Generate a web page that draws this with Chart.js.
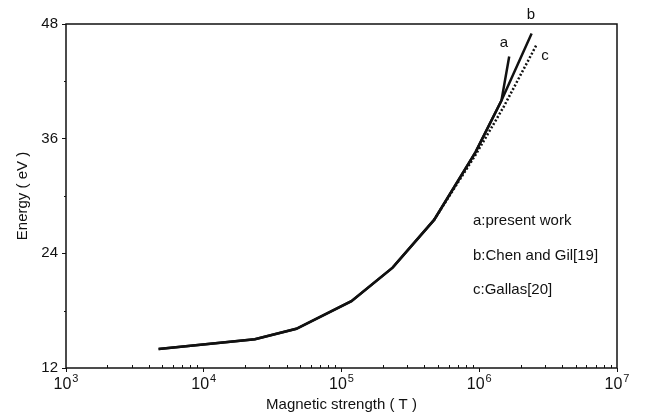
<!DOCTYPE html>
<html>
<head>
<meta charset="utf-8">
<script src="https://cdn.jsdelivr.net/npm/chart.js@4.4.0/dist/chart.umd.min.js"></script>
<style>
    html, body { margin: 0; padding: 0; background: #fff; }
    #energyChart { display: block; }
</style>
</head>
<body>
<canvas id="energyChart" width="651" height="416"></canvas>
<script>
// Data (field in tesla, energy in eV)
const fieldA = [4.7e3, 2.35e4, 4.7e4, 1.18e5, 2.35e5, 4.7e5, 9.4e5, 1.45e6, 1.65e6];
const energyA = [14.0, 15.0, 16.1, 19.0, 22.5, 27.5, 34.6, 40.0, 44.6];

const fieldB = [4.7e3, 2.35e4, 4.7e4, 1.18e5, 2.35e5, 4.7e5, 9.4e5, 1.45e6, 2.4e6];
const energyB = [14.0, 15.0, 16.1, 19.0, 22.5, 27.5, 34.6, 40.0, 47.0];

const fieldC = [4.7e5, 9.4e5, 1.5e6, 2.6e6];
const energyC = [27.5, 34.3, 39.3, 45.8];

const xTicks = [1e3, 1e4, 1e5, 1e6, 1e7];
const xTickExponents = ['3', '4', '5', '6', '7'];
const yTicks = [12, 24, 36, 48];
const yMinorTicks = [18, 30, 42];

const curveLabels = [
    { text: 'a', x: 504, y: 43 },
    { text: 'b', x: 531, y: 15 },
    { text: 'c', x: 545, y: 56 }
];
const legendLines = ['a:present work', 'b:Chen and Gil[19]', 'c:Gallas[20]'];

const FONT = '"Liberation Sans", Arial, Helvetica, sans-serif';
const INK = '#111';

function toPoints(xs, ys) {
    return xs.map((x, i) => ({ x: x, y: ys[i] }));
}

// frame, minor ticks, power-of-ten labels and the text annotations
const extrasPlugin = {
    id: 'extras',
    afterDraw(chart) {
        const ctx = chart.ctx;
        const area = chart.chartArea;
        const xs = chart.scales.x;
        const ys = chart.scales.y;
        ctx.save();

        ctx.strokeStyle = INK;
        ctx.lineWidth = 1.5;
        ctx.strokeRect(area.left, area.top, area.right - area.left, area.bottom - area.top);

        // x minor ticks, pointing inward
        ctx.lineWidth = 1;
        ctx.beginPath();
        for (let p = 3; p < 7; p++) {
            for (let m = 2; m <= 9; m++) {
                const px = Math.round(xs.getPixelForValue(m * Math.pow(10, p))) + 0.5;
                ctx.moveTo(px, area.bottom);
                ctx.lineTo(px, area.bottom - 3);
            }
        }
        yMinorTicks.forEach(v => {
            const py = Math.round(ys.getPixelForValue(v)) + 0.5;
            ctx.moveTo(area.left, py);
            ctx.lineTo(area.left - 2, py);
        });
        ctx.stroke();

        ctx.fillStyle = INK;

        // 10^n labels with a real raised exponent
        ctx.textAlign = 'left';
        ctx.textBaseline = 'alphabetic';
        xTicks.forEach((v, i) => {
            const px = xs.getPixelForValue(v);
            ctx.font = '16px ' + FONT;
            const baseW = ctx.measureText('10').width;
            ctx.font = '11px ' + FONT;
            const expW = ctx.measureText(xTickExponents[i]).width;
            const x0 = px - (baseW + 1 + expW) / 2;
            ctx.font = '16px ' + FONT;
            ctx.fillText('10', x0, area.bottom + 21);
            ctx.font = '11px ' + FONT;
            ctx.fillText(xTickExponents[i], x0 + baseW + 1, area.bottom + 14);
        });

        ctx.font = '15px ' + FONT;
        ctx.textAlign = 'center';
        ctx.textBaseline = 'middle';
        curveLabels.forEach(l => ctx.fillText(l.text, l.x, l.y));

        ctx.textAlign = 'left';
        legendLines.forEach((t, i) => ctx.fillText(t, 473, 221 + i * 34.5));
        ctx.restore();
    }
};

const ctx = document.getElementById('energyChart').getContext('2d');

new Chart(ctx, {
    type: 'line',
    data: {
        datasets: [
            {
                label: 'a',
                data: toPoints(fieldA, energyA),
                borderColor: INK,
                borderWidth: 2.5,
                pointRadius: 0,
                tension: 0,
                fill: false
            },
            {
                label: 'b',
                data: toPoints(fieldB, energyB),
                borderColor: INK,
                borderWidth: 2.5,
                pointRadius: 0,
                tension: 0,
                fill: false
            },
            {
                label: 'c',
                data: toPoints(fieldC, energyC),
                borderColor: INK,
                borderWidth: 2.5,
                borderDash: [2, 2],
                pointRadius: 0,
                tension: 0,
                fill: false
            }
        ]
    },
    options: {
        responsive: false,
        animation: false,
        layout: {
            padding: { top: 24, right: 34, left: 0, bottom: 0 }
        },
        plugins: {
            legend: { display: false },
            tooltip: { enabled: false }
        },
        scales: {
            x: {
                type: 'logarithmic',
                min: 1e3,
                max: 1e7,
                afterBuildTicks: function(scale) {
                    scale.ticks = xTicks.map(v => ({ value: v }));
                },
                afterFit: function(scale) {
                    scale.height = 48;
                },
                ticks: {
                    autoSkip: false,
                    maxRotation: 0,
                    // labels are drawn by the plugin so the exponent can be raised
                    callback: function() { return ''; }
                },
                grid: {
                    drawOnChartArea: false,
                    tickLength: 4,
                    color: INK
                },
                border: { display: false },
                title: {
                    display: true,
                    text: 'Magnetic strength ( T )',
                    color: INK,
                    font: { family: FONT, size: 15 },
                    padding: { top: 0, bottom: 2 }
                }
            },
            y: {
                type: 'linear',
                min: 12,
                max: 48,
                afterBuildTicks: function(scale) {
                    scale.ticks = yTicks.map(v => ({ value: v }));
                },
                afterFit: function(scale) {
                    scale.width = 66;
                },
                ticks: {
                    padding: 4,
                    color: INK,
                    font: { family: FONT, size: 15 }
                },
                grid: {
                    drawOnChartArea: false,
                    tickLength: 4,
                    color: INK
                },
                border: { display: false },
                title: {
                    display: true,
                    text: 'Energy ( eV )',
                    color: INK,
                    font: { family: FONT, size: 15 },
                    padding: { top: 14, bottom: 0 }
                }
            }
        }
    },
    plugins: [extrasPlugin]
});
</script>
</body>
</html>
